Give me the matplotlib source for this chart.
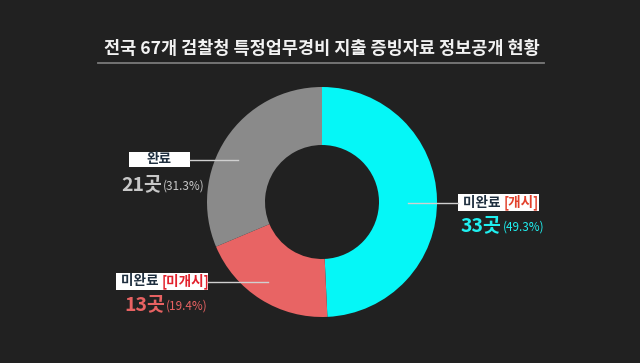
import matplotlib
matplotlib.use('Agg')
import matplotlib.pyplot as plt
from matplotlib.patches import Rectangle

plt.rcParams['font.family'] = ['Noto Sans CJK KR', 'DejaVu Sans']

# data
title = '전국 67개 검찰청 특정업무경비 지출 증빙자료 정보공개 현황'
labels = ['미완료', '미완료', '완료']
tags = ['[개시]', '[미개시]', '']
counts = [33, 13, 21]
shares = [49.3, 19.4, 31.3]
colors = ['#05f7f7', '#e86464', '#8a8a8a']
num_colors = ['#1ff0f0', '#e86262', '#c8c8c8']

W, H = 640, 363
fig = plt.figure(figsize=(W / 100, H / 100), dpi=100, facecolor='#212121')
ax = fig.add_axes([0, 0, 1, 1])


def py(y):
    # pixel row (from top) to data y
    return H - y


cx, cy, r = 322, 202, 115
ax.pie(counts, colors=colors, startangle=90, counterclock=False,
       center=(cx, py(cy)), radius=r, frame=True,
       wedgeprops=dict(width=r - 57, linewidth=0))
ax.set_xlim(0, W)
ax.set_ylim(0, H)
ax.set_axis_off()

# title with underline
ax.text(W / 2 + 2, py(49), title, ha='center', va='center', color='#f2f2f2',
        fontsize=12.6, fontweight='bold')
ax.plot([98, 544], [py(62.5), py(62.5)], color='#7a7a7a', lw=1.3)

# label boxes in pixel coords: x0, x1, y0, y1, leader line end x, number x, number y
boxes = [
    (458, 539, 194, 211, 408, 461, 226),
    (116, 208, 273, 290, 268, 124, 305),
    (129, 190, 152, 167, 238, 121, 185),
]
text_dark = '#1f2f3f'
tag_color = ['#e2412c', '#e2202c', None]

for i in range(len(labels)):
    x0, x1, y0, y1, lx, nx, ny = boxes[i]
    ym = (y0 + y1) / 2
    # leader line
    if i == 0:
        ax.plot([lx, x0], [py(ym), py(ym)], color='#d0d0d0', lw=1)
    else:
        ax.plot([x1, lx], [py(ym), py(ym)], color='#d0d0d0', lw=1)
    ax.add_patch(Rectangle((x0, py(y1)), x1 - x0, y1 - y0, fc='white', ec='none'))
    if tags[i]:
        t = ax.text(x0 + 5, py(ym), labels[i] + ' ', ha='left', va='center',
                    fontsize=9.8, fontweight='bold', color=text_dark)
        fig.canvas.draw()
        bb = t.get_window_extent()
        ax.text(bb.x1, py(ym), tags[i], ha='left', va='center',
                fontsize=9.8, fontweight='bold', color=tag_color[i])
    else:
        ax.text((x0 + x1) / 2, py(ym), labels[i], ha='center', va='center',
                fontsize=9.8, fontweight='bold', color=text_dark)
    # count and share
    c = ax.text(nx, py(ny), f'{counts[i]}곳', ha='left', va='center',
                fontsize=14, fontweight='heavy', color=num_colors[i])
    fig.canvas.draw()
    cb = c.get_window_extent()
    ax.text(cb.x1 + 1, py(ny) - 1, f'({shares[i]}%)', ha='left', va='center',
            fontsize=8.5, color=num_colors[i])

fig.savefig('out.png', dpi=100, facecolor=fig.get_facecolor())
